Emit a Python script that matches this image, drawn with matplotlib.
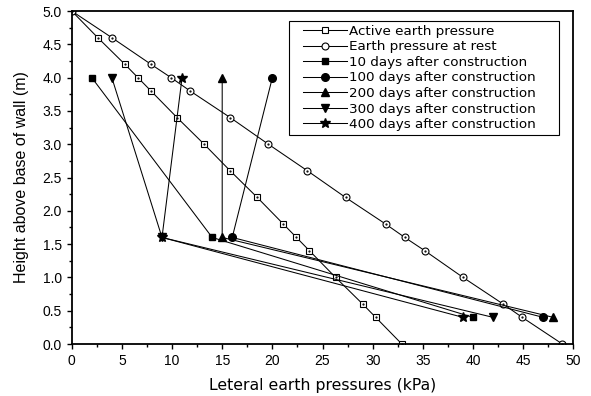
# Lateral earth pressure on a retaining wall: theory vs measurements over time
import numpy as np
import matplotlib.pyplot as plt
from matplotlib.lines import Line2D
from matplotlib.legend_handler import HandlerLine2D

plt.rcParams['font.family'] = ['Liberation Sans', 'DejaVu Sans']

# heights (m) for the theoretical curves
h_theory = [5.0, 4.6, 4.2, 4.0, 3.8, 3.4, 3.0, 2.6, 2.2, 1.8, 1.6, 1.4, 1.0, 0.6, 0.4, 0.0]
p_active = [0, 2.6, 5.3, 6.6, 7.9, 10.5, 13.2, 15.8, 18.5, 21.1, 22.4, 23.7, 26.3, 29.0, 30.3, 32.9]
p_rest = [0, 4.0, 7.9, 9.9, 11.8, 15.8, 19.6, 23.5, 27.3, 31.3, 33.2, 35.2, 39.0, 43.0, 44.9, 48.9]

# measured pressures at three gauge heights
h_meas = [4.0, 1.6, 0.4]
p_10 = [2, 14, 40]
p_100 = [20, 16, 47]
p_200 = [15, 15, 48]
p_300 = [4, 9, 42]
p_400 = [11, 9, 39]

fig = plt.figure(figsize=(5.91, 3.96), dpi=100)
ax = fig.add_axes([0.1213, 0.1313, 0.8489, 0.8409])

lw = 0.75
ax.plot(p_active, h_theory, '-s', c='k', lw=lw, ms=4.6, mfc='white', mew=0.8,
        label="Active earth pressure")
ax.plot(p_rest, h_theory, '-o', c='k', lw=lw, ms=5.0, mfc='white', mew=0.8,
        label="Earth pressure at rest")
# small dot in the middle of the open symbols
ax.plot(p_active, h_theory, '.', c='k', ms=1.2)
ax.plot(p_rest, h_theory, '.', c='k', ms=1.2)

ax.plot(p_10, h_meas, '-s', c='k', lw=lw, ms=5, label="10 days after construction")
ax.plot(p_100, h_meas, '-o', c='k', lw=lw, ms=5.5, label="100 days after construction")
ax.plot(p_200, h_meas, '-^', c='k', lw=lw, ms=6, label="200 days after construction")
ax.plot(p_300, h_meas, '-v', c='k', lw=lw, ms=6, label="300 days after construction")
ax.plot(p_400, h_meas, '-*', c='k', lw=lw, ms=7, label="400 days after construction")

ax.set_xlim(0, 50)
ax.set_ylim(0, 5)
ax.set_xticks(np.arange(0, 51, 5))
ax.set_xticks(np.arange(0, 50.1, 2.5), minor=True)
ax.set_yticks(np.arange(0, 5.01, 0.5))
ax.set_yticks(np.arange(0, 5.01, 0.25), minor=True)
ax.yaxis.set_major_formatter(plt.FormatStrFormatter('%.1f'))
ax.tick_params(axis='both', which='major', labelsize=10, length=3.6, width=1, direction='out')
ax.tick_params(axis='both', which='minor', length=2.2, width=1, direction='out')
for s in ax.spines.values():
    s.set_linewidth(1.3)

ax.set_xlabel("Leteral earth pressures (kPa)", fontsize=11.3, family='DejaVu Sans', labelpad=7)
ax.set_ylabel("Height above base of wall (m)", fontsize=11.5, labelpad=10)

leg = ax.legend(loc='upper left', bbox_to_anchor=(0.4332, 0.5, 0.5383, 0.471),
                mode='expand', borderaxespad=0, prop={'family': 'DejaVu Sans', 'size': 9.7},
                frameon=True, fancybox=False, edgecolor='k', framealpha=1,
                handlelength=4.0, borderpad=0.3, labelspacing=0.19, handletextpad=0.15,
                handler_map={Line2D: HandlerLine2D(xpad=0.75)})
leg.get_frame().set_linewidth(0.8)

fig.savefig("out.png", dpi=100)
